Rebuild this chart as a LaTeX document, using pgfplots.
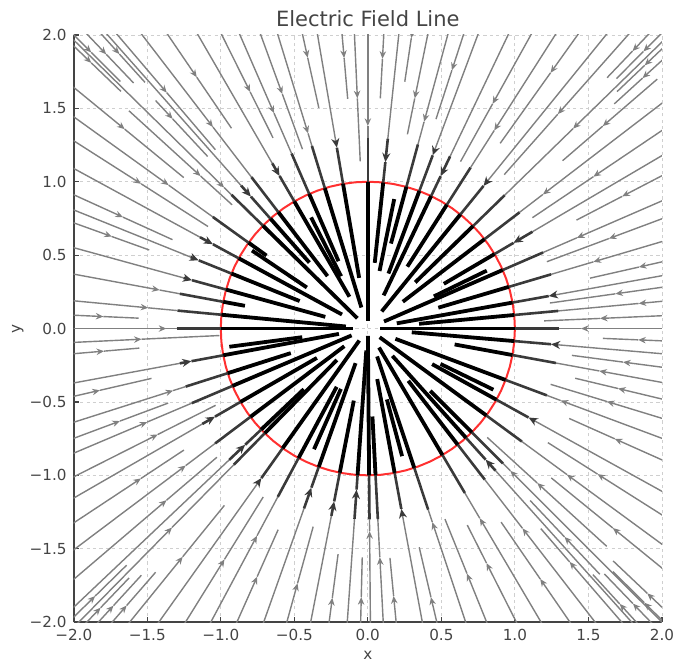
\documentclass[border=0pt]{standalone}
\usepackage{fontspec}
\setmainfont{DejaVu Sans}
\usepackage{pgfplots}
\pgfplotsset{compat=1.18}
\usetikzlibrary{arrows.meta}

\definecolor{txt}{HTML}{444444}
\definecolor{gline}{HTML}{808080}
\definecolor{dline}{HTML}{3A3A3A}
\definecolor{cred}{HTML}{FF3030}
\definecolor{gridc}{HTML}{CFCFCF}

\pgfplotsset{
  gl/.style={data cs=polar, gline, line width=0.7pt},
  dl/.style={data cs=polar, dline, line width=1.3pt},
  kl/.style={data cs=polar, black, line width=1.9pt},
  ga/.style={-{Stealth[length=3.8pt,width=3.2pt]}},
  da/.style={-{Stealth[length=4.6pt,width=4pt]}},
}
% streamlines given in polar form: angle (deg), radii
% full line from the frame to the inside, gray arrow at #3
\newcommand\Fa[3]{%
  \addplot[gl,ga] coordinates {(#1,3) (#1,#3)};
  \addplot[gl] coordinates {(#1,#3) (#1,1.3)};
  \addplot[dl] coordinates {(#1,1.3) (#1,1)};
  \addplot[kl] coordinates {(#1,1) (#1,#2)};}
% full line, dark arrow at #3 (between 1 and 1.3)
\newcommand\Fb[3]{%
  \addplot[gl] coordinates {(#1,3) (#1,1.3)};
  \addplot[dl,da] coordinates {(#1,1.3) (#1,#3)};
  \addplot[dl] coordinates {(#1,#3) (#1,1)};
  \addplot[kl] coordinates {(#1,1) (#1,#2)};}
% outer gray piece: angle, start, end, arrow
\newcommand\Og[4]{%
  \addplot[gl,ga] coordinates {(#1,#2) (#1,#4)};
  \addplot[gl] coordinates {(#1,#4) (#1,#3)};}
% inner piece only
\newcommand\Ik[3]{\addplot[kl] coordinates {(#1,#2) (#1,#3)};}

\begin{document}
\begin{tikzpicture}
\begin{axis}[
  scale only axis,
  width=294pt, height=293.5pt,
  xmin=-2, xmax=2, ymin=-2, ymax=2,
  axis x line*=bottom, axis y line*=left,
  axis line style={draw=txt, line width=0.8pt},
  tick align=inside,
  major tick length=2.5pt,
  tick style={draw=txt, line width=0.6pt},
  xtick={-2,-1.5,-1,-0.5,0,0.5,1,1.5,2},
  ytick={-2,-1.5,-1,-0.5,0,0.5,1,1.5,2},
  xticklabels={−2.0,−1.5,−1.0,−0.5,0.0,0.5,1.0,1.5,2.0},
  yticklabels={−2.0,−1.5,−1.0,−0.5,0.0,0.5,1.0,1.5,2.0},
  ticklabel style={font=\fontsize{7.6}{9}\selectfont, text=txt},
  xticklabel style={inner xsep=0.5pt},
  grid=major,
  grid style={gridc, dash pattern=on 1.6pt off 1.6pt, line width=0.4pt},
  title={Electric Field Line},
  title style={at={(0.5,1)}, anchor=base, yshift=-2pt, inner sep=5.5pt,
    font=\fontsize{10.5}{12}\selectfont, text=txt},
  xlabel={x}, ylabel={y},
  xlabel style={at={(axis description cs:0.5,-0.0562)}, anchor=center,
    inner sep=1.4pt, font=\fontsize{7.6}{9}\selectfont, text=txt},
  ylabel style={at={(axis description cs:-0.0952,0.5)}, anchor=center,
    inner sep=6pt, font=\fontsize{7.6}{9}\selectfont, text=txt},
]
% unit circle
\addplot[data cs=polar, cred, line width=1pt] coordinates {
 (0,1) (5,1) (10,1) (15,1) (20,1) (25,1) (30,1) (35,1) (40,1) (45,1)
 (50,1) (55,1) (60,1) (65,1) (70,1) (75,1) (80,1) (85,1) (90,1) (95,1)
 (100,1) (105,1) (110,1) (115,1) (120,1) (125,1) (130,1) (135,1) (140,1)
 (145,1) (150,1) (155,1) (160,1) (165,1) (170,1) (175,1) (180,1) (185,1)
 (190,1) (195,1) (200,1) (205,1) (210,1) (215,1) (220,1) (225,1) (230,1)
 (235,1) (240,1) (245,1) (250,1) (255,1) (260,1) (265,1) (270,1) (275,1)
 (280,1) (285,1) (290,1) (295,1) (300,1) (305,1) (310,1) (315,1) (320,1)
 (325,1) (330,1) (335,1) (340,1) (345,1) (350,1) (355,1) (360,1)};

% quadrant I
\Fa{0}{0.08}{1.45}
\Og{2.5}{3}{1.2}{1.58}
\Fa{5.3}{0.35}{1.85}
\Og{8}{2.6}{1.25}{1.7}
\Fb{10.2}{0.2}{1.25}
\Og{12.8}{3}{1.55}{1.89}
\Fa{16.5}{0.5}{1.6}
\Og{20.5}{3}{1.3}{1.75}
\Fa{23.5}{0.12}{1.55}
\Ik{26}{0.9}{0.5}
\Og{27.5}{3}{1.6}{1.95}
\Fb{30.5}{0.6}{1.15}
\Og{34}{3}{1.35}{1.85}
\Fa{37.5}{0.3}{1.5}
\Og{40.8}{2.6}{1.75}{2.11}
\Og{42.4}{3}{2.27}{2.53}
\Og{43.6}{3}{2.34}{2.6}
\Fa{44.3}{0.45}{1.95}
\Og{45.2}{3}{2.4}{2.66}
\Og{46.4}{3}{2.36}{2.61}
\Og{48.5}{3}{1.4}{1.95}
\Fb{51}{0.15}{1.25}
\Og{54.5}{3}{1.55}{2.14}
\Fa{57.5}{0.5}{1.6}
\Og{61}{3}{1.3}{1.75}
\Fb{64.5}{0.25}{1.15}
\Fb{69.5}{0.4}{1.26}
\Og{72}{3}{1.5}{1.85}
\Fa{74.8}{0.6}{1.46}
\Og{78.5}{3}{1.35}{1.6}
\Ik{78.5}{0.9}{0.4}
\Og{81.5}{3}{1.7}{2.0}
\Fb{84}{0.45}{1.14}
\Og{86.9}{3}{1.57}{1.84}
\Fa{90}{0.05}{1.38}

% quadrant II
\Og{92.6}{3}{1.14}{1.57}
\Og{95}{3}{1.57}{1.85}
\Fb{99.7}{0.35}{1.25}
\Og{102.5}{3}{1.54}{1.89}
\Fa{107}{0.15}{1.39}
\Og{110}{3}{1.3}{1.7}
\Fa{113.5}{0.5}{1.6}
\Og{116.4}{2.6}{1.45}{1.8}
\Ik{117}{0.85}{0.4}
\Fb{120}{0.25}{1.2}
\Og{124.2}{3}{1.65}{2.07}
\Fa{127.5}{0.45}{1.73}
\Og{130.4}{3}{1.6}{2.11}
\Fb{131.5}{0.6}{1.2}
\Og{132.1}{3}{2.26}{2.52}
\Og{132.9}{2.12}{1.6}{1.95}
\Og{133.6}{3}{2.31}{2.58}
\Og{135}{3}{2.38}{2.66}
\Fa{135.5}{0.1}{1.37}
\Og{136.1}{3}{2.33}{2.61}
\Og{137.6}{2.2}{1.25}{1.54}
\Og{140.6}{3}{1.62}{2.14}
\Fa{144.2}{0.85}{1.67}
\Ik{146}{0.95}{0.5}
\Og{147.4}{3}{1.29}{1.83}
\Fb{151.4}{0.2}{1.2}
\Og{155.5}{3}{1.46}{1.83}
\Fb{158}{0.5}{1.24}
\Og{160.2}{3}{1.58}{1.85}
\Fb{164.6}{0.3}{1.24}
\Fa{169.5}{0.85}{1.44}
\Fa{174.6}{0.15}{1.5}
\Og{177.4}{3}{1.56}{1.8}
\Fa{180}{0.1}{1.37}

% quadrant III
\Og{182.7}{3}{1.01}{1.54}
\Og{184.9}{3}{1.56}{1.8}
\Ik{187.5}{0.95}{0.45}
\Fb{190.5}{0.2}{1.22}
\Og{193}{3}{1.51}{1.87}
\Fa{197.7}{0.55}{1.39}
\Og{200.5}{3}{1.45}{1.8}
\Fa{203}{0.12}{1.63}
\Og{206.8}{3}{1.16}{1.6}
\Fb{210}{0.4}{1.2}
\Og{213.5}{3}{1.5}{1.85}
\Fa{217}{0.2}{1.55}
\Og{220.5}{3}{1.35}{1.8}
\Fb{223.5}{0.6}{1.15}
\Og{224.5}{3}{2.3}{2.6}
\Fa{225.5}{0.3}{1.9}
\Og{226.3}{3}{2.35}{2.63}
\Og{227.5}{3}{2.28}{2.56}
\Og{229}{3}{2.2}{2.5}
\Og{231}{3}{1.55}{2.0}
\Fb{234.6}{0.1}{1.25}
\Og{238.2}{3}{1.35}{1.85}
\Fa{241.9}{0.45}{1.6}
\Og{246}{3}{1.5}{1.85}
\Ik{246}{0.9}{0.45}
\Fb{250.5}{0.25}{1.15}
\Og{254.6}{3}{1.4}{1.8}
\Fb{259}{0.5}{1.2}
\Og{262.5}{3}{1.55}{1.85}
\Fb{266}{0.15}{1.1}
\Og{268.6}{3}{1.56}{1.83}

% quadrant IV
\Fa{270.5}{0.05}{1.38}
\Fa{273}{0.6}{1.56}
\Og{275.5}{3}{1.57}{1.83}
\Fb{280.5}{0.35}{1.25}
\Og{283.2}{3}{1.53}{1.88}
\Ik{285}{0.9}{0.5}
\Fa{288.4}{0.2}{1.39}
\Og{292}{3}{1.4}{1.8}
\Og{296.8}{3}{1.5}{1.79}
\Fa{300.5}{0.15}{1.5}
\Og{304.5}{3}{1.6}{2.07}
\Fa{307.7}{0.45}{1.72}
\Og{310.8}{3}{1.8}{2.1}
\Fb{311.9}{0.25}{1.2}
\Og{312.4}{3}{2.27}{2.54}
\Og{313.3}{2.3}{1.61}{1.95}
\Og{313.9}{3}{2.32}{2.6}
\Fa{315}{0.6}{1.37}
\Og{315.2}{3}{2.35}{2.65}
\Og{316.5}{3}{2.3}{2.62}
\Og{317.6}{2.2}{1.1}{1.56}
\Og{320.8}{3}{1.61}{2.15}
\Fa{323.7}{0.1}{1.68}
\Og{327.6}{3}{1.45}{1.85}
\Fb{331}{0.5}{1.25}
\Ik{334}{0.95}{0.55}
\Og{335.9}{3}{1.5}{1.84}
\Fa{339.5}{0.2}{1.4}
\Og{343}{3}{1.3}{1.7}
\Og{346.5}{3}{1.45}{1.75}
\Fa{349.6}{0.6}{1.6}
\Og{352.5}{3}{1.4}{1.75}
\Fb{355.1}{0.3}{1.25}
\Og{357.6}{3}{1.6}{1.84}
\end{axis}
\end{tikzpicture}
\end{document}
